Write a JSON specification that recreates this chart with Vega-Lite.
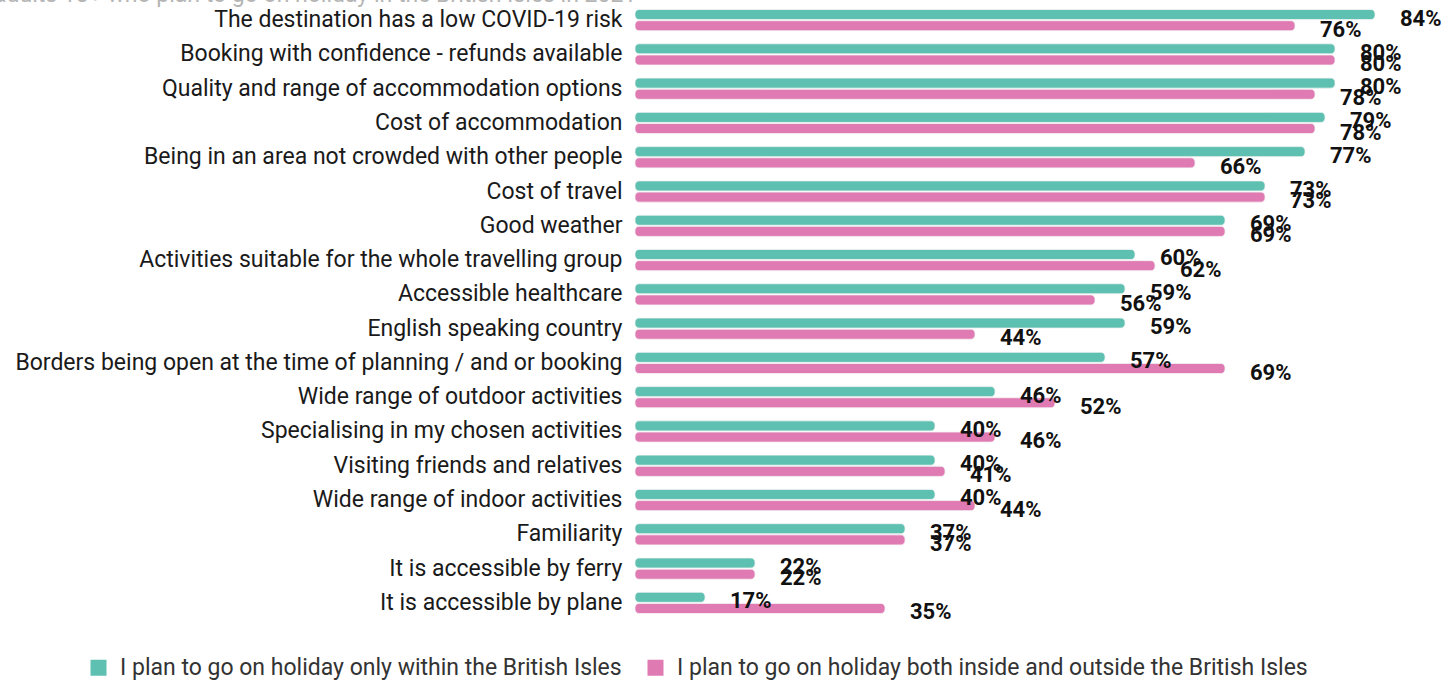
{
  "$schema": "https://vega.github.io/schema/vega-lite/v6.json",
  "width": 800,
  "height": 617,
  "autosize": {"type": "none"},
  "padding": {"left": 635, "top": 3, "right": 13, "bottom": 61},
  "background": "white",
  "view": {"stroke": null},
  "title": {
    "text": "adults 18+ who plan to go on holiday in the British Isles in 2021",
    "anchor": "start",
    "orient": "top",
    "frame": "group",
    "font": "Roboto",
    "fontSize": 23,
    "fontWeight": "normal",
    "color": "#b5b5b5",
    "baseline": "bottom",
    "dx": -641,
    "offset": -27
  },
  "data": {
    "values": [
      {"factor": "The destination has a low COVID-19 risk", "group": "I plan to go on holiday only within the British Isles", "value": 84},
      {"factor": "The destination has a low COVID-19 risk", "group": "I plan to go on holiday both inside and outside the British Isles", "value": 76},
      {"factor": "Booking with confidence - refunds available", "group": "I plan to go on holiday only within the British Isles", "value": 80},
      {"factor": "Booking with confidence - refunds available", "group": "I plan to go on holiday both inside and outside the British Isles", "value": 80},
      {"factor": "Quality and range of accommodation options", "group": "I plan to go on holiday only within the British Isles", "value": 80},
      {"factor": "Quality and range of accommodation options", "group": "I plan to go on holiday both inside and outside the British Isles", "value": 78},
      {"factor": "Cost of accommodation", "group": "I plan to go on holiday only within the British Isles", "value": 79},
      {"factor": "Cost of accommodation", "group": "I plan to go on holiday both inside and outside the British Isles", "value": 78},
      {"factor": "Being in an area not crowded with other people", "group": "I plan to go on holiday only within the British Isles", "value": 77},
      {"factor": "Being in an area not crowded with other people", "group": "I plan to go on holiday both inside and outside the British Isles", "value": 66},
      {"factor": "Cost of travel", "group": "I plan to go on holiday only within the British Isles", "value": 73},
      {"factor": "Cost of travel", "group": "I plan to go on holiday both inside and outside the British Isles", "value": 73},
      {"factor": "Good weather", "group": "I plan to go on holiday only within the British Isles", "value": 69},
      {"factor": "Good weather", "group": "I plan to go on holiday both inside and outside the British Isles", "value": 69},
      {"factor": "Activities suitable for the whole travelling group", "group": "I plan to go on holiday only within the British Isles", "value": 60},
      {"factor": "Activities suitable for the whole travelling group", "group": "I plan to go on holiday both inside and outside the British Isles", "value": 62},
      {"factor": "Accessible healthcare", "group": "I plan to go on holiday only within the British Isles", "value": 59},
      {"factor": "Accessible healthcare", "group": "I plan to go on holiday both inside and outside the British Isles", "value": 56},
      {"factor": "English speaking country", "group": "I plan to go on holiday only within the British Isles", "value": 59},
      {"factor": "English speaking country", "group": "I plan to go on holiday both inside and outside the British Isles", "value": 44},
      {"factor": "Borders being open at the time of planning / and or booking", "group": "I plan to go on holiday only within the British Isles", "value": 57},
      {"factor": "Borders being open at the time of planning / and or booking", "group": "I plan to go on holiday both inside and outside the British Isles", "value": 69},
      {"factor": "Wide range of outdoor activities", "group": "I plan to go on holiday only within the British Isles", "value": 46},
      {"factor": "Wide range of outdoor activities", "group": "I plan to go on holiday both inside and outside the British Isles", "value": 52},
      {"factor": "Specialising in my chosen activities", "group": "I plan to go on holiday only within the British Isles", "value": 40},
      {"factor": "Specialising in my chosen activities", "group": "I plan to go on holiday both inside and outside the British Isles", "value": 46},
      {"factor": "Visiting friends and relatives", "group": "I plan to go on holiday only within the British Isles", "value": 40},
      {"factor": "Visiting friends and relatives", "group": "I plan to go on holiday both inside and outside the British Isles", "value": 41},
      {"factor": "Wide range of indoor activities", "group": "I plan to go on holiday only within the British Isles", "value": 40},
      {"factor": "Wide range of indoor activities", "group": "I plan to go on holiday both inside and outside the British Isles", "value": 44},
      {"factor": "Familiarity", "group": "I plan to go on holiday only within the British Isles", "value": 37},
      {"factor": "Familiarity", "group": "I plan to go on holiday both inside and outside the British Isles", "value": 37},
      {"factor": "It is accessible by ferry", "group": "I plan to go on holiday only within the British Isles", "value": 22},
      {"factor": "It is accessible by ferry", "group": "I plan to go on holiday both inside and outside the British Isles", "value": 22},
      {"factor": "It is accessible by plane", "group": "I plan to go on holiday only within the British Isles", "value": 17},
      {"factor": "It is accessible by plane", "group": "I plan to go on holiday both inside and outside the British Isles", "value": 35}
    ]
  },
  "transform": [
    {"calculate": "datum.value + '%'", "as": "label"}
  ],
  "encoding": {
    "y": {
      "field": "factor",
      "type": "nominal",
      "sort": null,
      "scale": {"paddingInner": 0.38, "paddingOuter": 0.19},
      "axis": {
        "title": null,
        "domain": false,
        "ticks": false,
        "grid": false,
        "labelPadding": 13,
        "labelFont": "Roboto",
        "labelFontSize": 23,
        "labelColor": "#1a1a1a",
        "labelLimit": 700
      }
    },
    "yOffset": {
      "field": "group",
      "type": "nominal",
      "sort": ["I plan to go on holiday only within the British Isles", "I plan to go on holiday both inside and outside the British Isles"],
      "scale": {"paddingInner": 0.1}
    },
    "x": {
      "field": "value",
      "type": "quantitative",
      "scale": {"domain": [10, 90], "zero": false},
      "axis": null
    },
    "color": {
      "field": "group",
      "type": "nominal",
      "sort": ["I plan to go on holiday only within the British Isles", "I plan to go on holiday both inside and outside the British Isles"],
      "scale": {
        "domain": ["I plan to go on holiday only within the British Isles", "I plan to go on holiday both inside and outside the British Isles"],
        "range": ["#5ec0b1", "#e07ab3"]
      },
      "legend": {
        "title": null,
        "orient": "none",
        "direction": "horizontal",
        "legendX": -548,
        "legendY": 653,
        "symbolType": "square",
        "symbolSize": 256,
        "symbolStrokeWidth": 0,
        "labelFont": "Roboto",
        "labelFontSize": 23,
        "labelColor": "#333333",
        "labelLimit": 800,
        "columnPadding": 22,
        "labelOffset": 10
      }
    }
  },
  "layer": [
    {
      "mark": {"type": "bar", "cornerRadius": 4, "stroke": "#f4f4f4", "strokeWidth": 0.8},
      "encoding": {
        "x2": {"datum": 10}
      }
    },
    {
      "mark": {
        "type": "text",
        "align": "left",
        "baseline": "middle",
        "dx": 25,
        "dy": 4,
        "font": "Roboto",
        "fontSize": 22,
        "fontWeight": "bold"
      },
      "encoding": {
        "text": {"field": "label", "type": "nominal"},
        "color": {"value": "#111111"}
      }
    }
  ]
}
